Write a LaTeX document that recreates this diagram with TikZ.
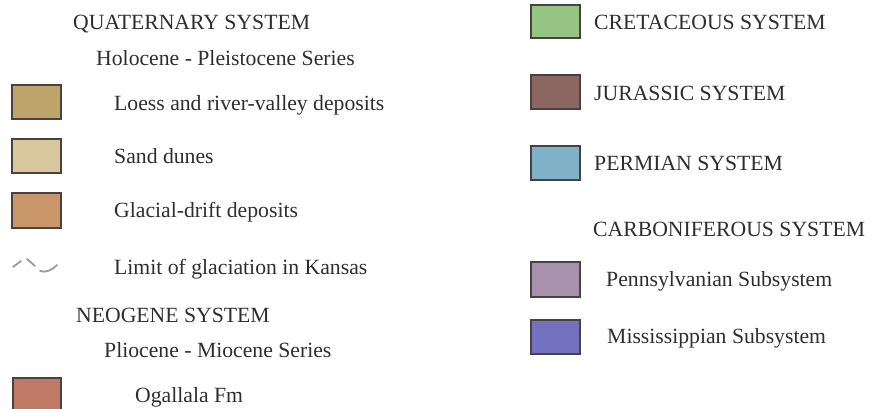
\documentclass[tikz,border=0pt]{standalone}
\usepackage{fontspec}
\setmainfont{Liberation Serif}
\definecolor{txt}{HTML}{2E2E2E}
\definecolor{frame}{HTML}{4A4242}
\definecolor{cLoess}{HTML}{BFA46C}
\definecolor{cSand}{HTML}{D8C79B}
\definecolor{cGlacial}{HTML}{C9966A}
\definecolor{cOgallala}{HTML}{C07A68}
\definecolor{cCret}{HTML}{96C482}
\definecolor{cJur}{HTML}{8C6762}
\definecolor{cPerm}{HTML}{7FB2C8}
\definecolor{cPenn}{HTML}{A891AC}
\definecolor{cMiss}{HTML}{7272C0}
\definecolor{glac}{HTML}{9A9A9A}
\tikzset{
  lbl/.style={anchor=base west, inner sep=0pt, text=txt, font=\fontsize{21.7}{26}\selectfont},
  swatch/.style={draw=frame, line width=2pt, fill=#1}
}
\begin{document}
\begin{tikzpicture}[x=1pt,y=-1pt]
\useasboundingbox (0,0) rectangle (872,408);
% left column
\node[lbl] (quat) at (73,29) {QUATERNARY SYSTEM};
\node[lbl] (holo) at (96,65) {Holocene - Pleistocene Series};
\draw[swatch=cLoess] (12,85) rectangle (61,119);
\node[lbl] (loess) at (114,110) {Loess and river-valley deposits};
\draw[swatch=cSand] (12,139) rectangle (61,173);
\node[lbl] (sand) at (114,163) {Sand dunes};
\draw[swatch=cGlacial] (12,193) rectangle (61,228);
\node[lbl] (glacial) at (114,217) {Glacial-drift deposits};
\begin{scope}[draw=glac, line width=1.8pt, line cap=round]
\draw (13,267) -- (21,261);
\draw (27,259) -- (35,266);
\draw (40,271) .. controls (46,273) and (52,270) .. (57,265);
\end{scope}
\node[lbl] (limit) at (114,274) {Limit of glaciation in Kansas};
\node[lbl] (neo) at (76,322) {NEOGENE SYSTEM};
\node[lbl] (plio) at (104,357) {Pliocene - Miocene Series};
\draw[swatch=cOgallala] (13,378) rectangle (61,414);
\node[lbl] (ogal) at (135,402) {Ogallala Fm};
% right column
\draw[swatch=cCret] (531,5) rectangle (580,38);
\node[lbl] (cret) at (594,29) {CRETACEOUS SYSTEM};
\draw[swatch=cJur] (531,75) rectangle (580,109);
\node[lbl] (jur) at (594,100) {JURASSIC SYSTEM};
\draw[swatch=cPerm] (531,146) rectangle (580,180);
\node[lbl] (perm) at (594,170) {PERMIAN SYSTEM};
\node[lbl] (carb) at (593,236) {CARBONIFEROUS SYSTEM};
\draw[swatch=cPenn] (531,262) rectangle (580,297);
\node[lbl] (penn) at (606,286) {Pennsylvanian Subsystem};
\draw[swatch=cMiss] (531,320) rectangle (580,354);
\node[lbl] (miss) at (607,343) {Mississippian Subsystem};
\end{tikzpicture}
\end{document}
